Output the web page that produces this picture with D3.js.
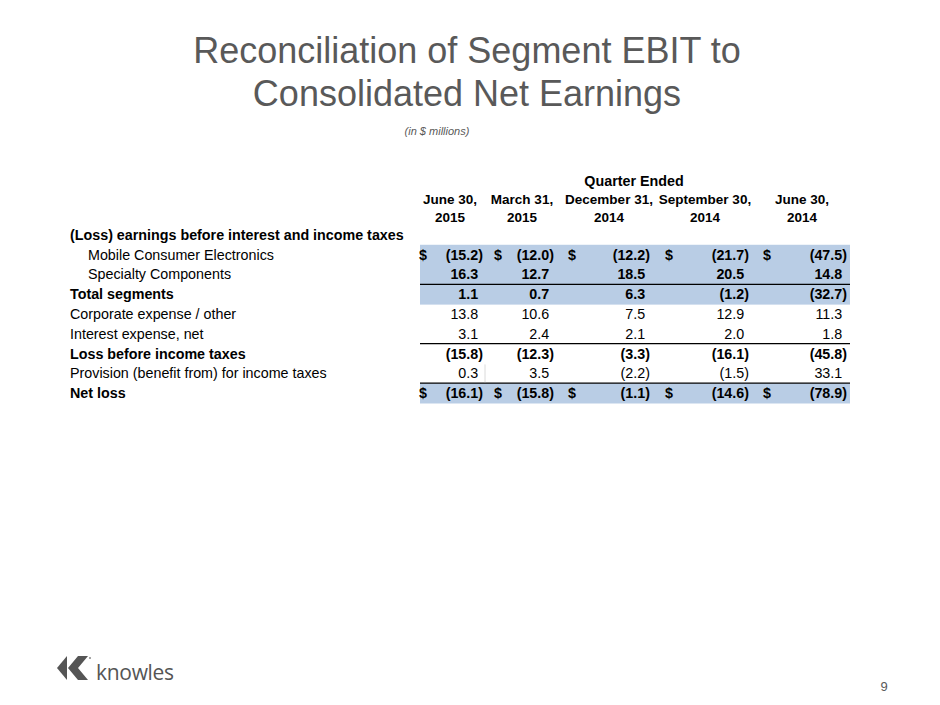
<!DOCTYPE html>
<html>
<head>
<meta charset="utf-8">
<script src="https://cdn.jsdelivr.net/npm/d3@7"></script>
<style>
  body { margin: 0; background: #fff; }
  text { font-family: "Liberation Sans", Arial, sans-serif; }
</style>
</head>
<body>
<div id="slide"></div>
<script>
// quarter headers
const quarterMonths = ["June 30,", "March 31,", "December 31,", "September 30,", "June 30,"];
const quarterYears = ["2015", "2015", "2014", "2014", "2014"];
const quarterKeys = quarterMonths.map((m, i) => m + " " + quarterYears[i] + "#" + i);

// row values ($ millions), one array per line item
const mobileConsumer = [-15.2, -12.0, -12.2, -21.7, -47.5];
const specialtyComponents = [16.3, 12.7, 18.5, 20.5, 14.8];
const totalSegments = [1.1, 0.7, 6.3, -1.2, -32.7];
const corporateExpense = [13.8, 10.6, 7.5, 12.9, 11.3];
const interestExpense = [3.1, 2.4, 2.1, 2.0, 1.8];
const lossBeforeTaxes = [-15.8, -12.3, -3.3, -16.1, -45.8];
const provisionTaxes = [0.3, 3.5, -2.2, -1.5, 33.1];
const netLoss = [-16.1, -15.8, -1.1, -14.6, -78.9];

const rows = [
  { label: "(Loss) earnings before interest and income taxes", values: null, bold: true },
  { label: "Mobile Consumer Electronics", values: mobileConsumer, indent: true, shade: true, dollar: true, boldNum: true },
  { label: "Specialty Components", values: specialtyComponents, indent: true, shade: true, boldNum: true, lineBelow: true },
  { label: "Total segments", values: totalSegments, bold: true, shade: true, boldNum: true },
  { label: "Corporate expense / other", values: corporateExpense },
  { label: "Interest expense, net", values: interestExpense, lineBelow: true },
  { label: "Loss before income taxes", values: lossBeforeTaxes, bold: true, boldNum: true },
  { label: "Provision (benefit from) for income taxes", values: provisionTaxes, lineBelow: true },
  { label: "Net loss", values: netLoss, bold: true, shade: true, dollar: true, boldNum: true }
];

const width = 940, height = 705;
const fontSize = "14.3px";
const svg = d3.select("#slide").append("svg")
  .attr("width", width)
  .attr("height", height);

// title
const title = svg.append("text")
  .attr("text-anchor", "middle")
  .attr("fill", "#595959")
  .style("font-size", "36px");
title.append("tspan").attr("x", 467).attr("y", 63).text("Reconciliation of Segment EBIT to");
title.append("tspan").attr("x", 467).attr("y", 106).text("Consolidated Net Earnings");

svg.append("text")
  .attr("x", 437).attr("y", 135)
  .attr("text-anchor", "middle")
  .attr("fill", "#595959")
  .style("font-size", "11px")
  .style("font-style", "italic")
  .text("(in $ millions)");

// scales
const tableLeft = 420, tableRight = 850;
const colLeft = d3.scaleOrdinal().domain(quarterKeys).range([420, 485, 560, 657, 752]);
const colCenter = d3.scaleOrdinal().domain(quarterKeys).range([450, 522, 609, 705, 802]);
const numRight = d3.scaleOrdinal().domain(quarterKeys).range([483, 554, 650, 749, 847]);
const dollarX = d3.scaleOrdinal().domain(quarterKeys).range([419, 494, 568, 665, 763]);
const y = d3.scaleBand().domain(d3.range(rows.length)).range([225, 403]).padding(0);

// header
svg.append("text")
  .attr("x", 634).attr("y", 186)
  .attr("text-anchor", "middle")
  .style("font-size", fontSize).style("font-weight", "bold")
  .text("Quarter Ended");

const head = svg.append("g").selectAll("g")
  .data(quarterKeys)
  .join("g");
head.append("text")
  .attr("x", d => colCenter(d)).attr("y", 204)
  .attr("text-anchor", "middle")
  .style("font-size", "13.5px").style("font-weight", "bold")
  .text((d, i) => quarterMonths[i]);
head.append("text")
  .attr("x", d => colCenter(d)).attr("y", 222)
  .attr("text-anchor", "middle")
  .style("font-size", "13.5px").style("font-weight", "bold")
  .text((d, i) => quarterYears[i]);

// shading
svg.append("g").selectAll("rect")
  .data(rows.map((r, i) => ({ r, i })).filter(d => d.r.shade))
  .join("rect")
  .attr("x", tableLeft)
  .attr("y", d => y(d.i))
  .attr("width", tableRight - tableLeft)
  .attr("height", y.bandwidth() + 0.5)
  .attr("fill", "#b9cde5");

// rules
svg.append("g").selectAll("line")
  .data(rows.map((r, i) => ({ r, i })).filter(d => d.r.lineBelow))
  .join("line")
  .attr("x1", tableLeft).attr("x2", tableRight)
  .attr("y1", d => y(d.i) + y.bandwidth())
  .attr("y2", d => y(d.i) + y.bandwidth())
  .attr("stroke", "#000")
  .attr("stroke-width", 1.2);

// faint cell border in the provision row
svg.append("line")
  .attr("x1", colLeft(quarterKeys[1])).attr("x2", colLeft(quarterKeys[1]))
  .attr("y1", y(7) + 1).attr("y2", y(7) + y.bandwidth() - 1)
  .attr("stroke", "#d0d0d0").attr("stroke-width", 0.8);

// row labels
svg.append("g").selectAll("text")
  .data(rows)
  .join("text")
  .attr("x", d => d.indent ? 88 : 70)
  .attr("y", (d, i) => y(i) + y.bandwidth() / 2 + 5)
  .style("font-size", fontSize)
  .style("font-weight", d => d.bold ? "bold" : "normal")
  .text(d => d.label);

// values
const fmt = d3.format(".1f");
rows.forEach((r, i) => {
  if (!r.values) return;
  const g = svg.append("g").style("font-size", fontSize)
    .style("font-weight", r.boldNum ? "bold" : "normal");
  const by = y(i) + y.bandwidth() / 2 + 5;
  const cells = g.selectAll("text.num")
    .data(r.values.map((v, j) => ({ v, k: quarterKeys[j] })))
    .join("text")
    .attr("class", "num")
    .attr("x", d => numRight(d.k))
    .attr("y", by)
    .attr("text-anchor", "end");
  cells.append("tspan").text(d => d.v < 0 ? "(" + fmt(-d.v) : fmt(d.v));
  cells.append("tspan")
    .attr("fill-opacity", d => d.v < 0 ? 1 : 0)
    .text(")");
  if (r.dollar) {
    g.selectAll("text.dollar")
      .data(quarterKeys)
      .join("text")
      .attr("class", "dollar")
      .attr("x", d => dollarX(d))
      .attr("y", by)
      .text("$");
  }
});

// logo
const logo = svg.append("g").attr("fill", "#555");
logo.append("path").attr("d", "M57,668 L67,656 L67,680 Z");
logo.append("path").attr("d", "M68,668 L78,656 L88,656 L78,668 L88,680 L78,680 Z");
logo.append("circle").attr("cx", 90).attr("cy", 658).attr("r", 1).attr("fill", "#888");
logo.append("text")
  .attr("x", 96).attr("y", 680)
  .style("font-family", "'Open Sans', sans-serif")
  .style("font-size", "21px")
  .style("letter-spacing", "-0.3px")
  .text("knowles");

// page number
svg.append("text")
  .attr("x", 884).attr("y", 691)
  .attr("text-anchor", "middle")
  .attr("fill", "#595959")
  .style("font-size", "13px")
  .text("9");
</script>
</body>
</html>
